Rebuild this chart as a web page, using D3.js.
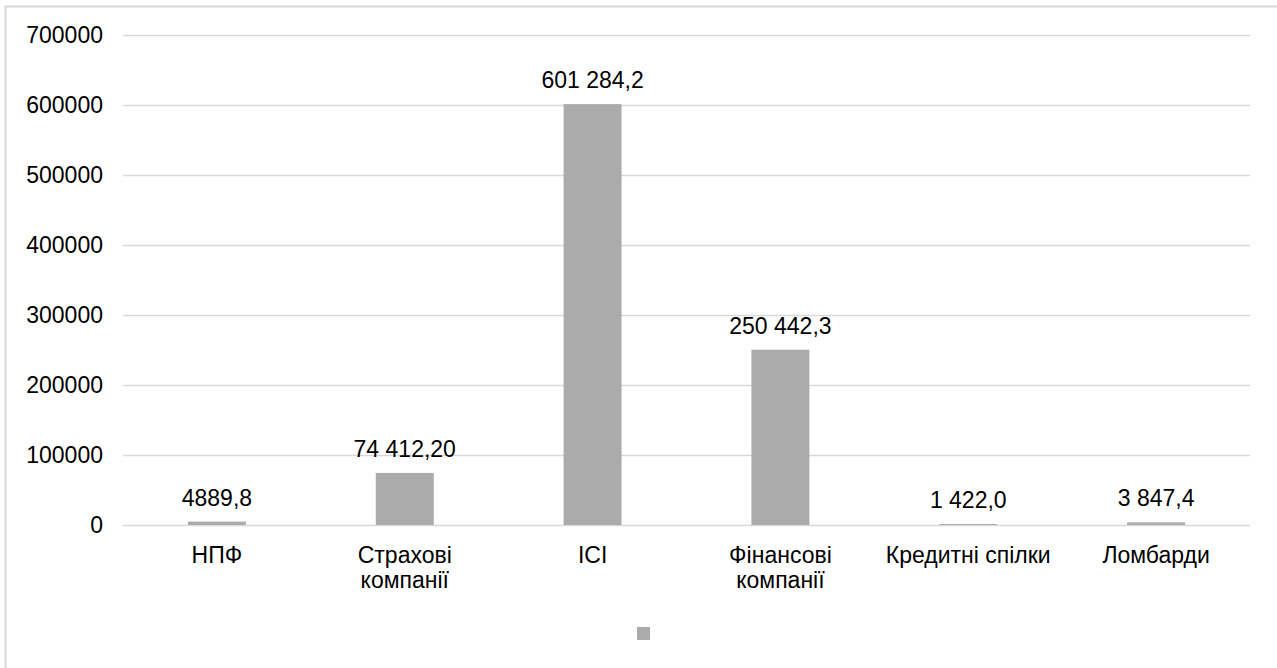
<!DOCTYPE html>
<html>
<head>
<meta charset="utf-8">
<script src="https://cdn.jsdelivr.net/npm/d3@7/dist/d3.min.js"></script>
<style>
  html, body { margin: 0; padding: 0; background: #fff; }
  svg { display: block; }
  text { font-family: "Liberation Sans", Arial, sans-serif; fill: #000; }
</style>
</head>
<body>
<svg id="chart" width="1277" height="668"></svg>
<script>
// Categories (two-line names split by "\n")
const categories = ["НПФ", "Страхові\nкомпанії", "ICI", "Фінансові\nкомпанії", "Кредитні спілки", "Ломбарди"];
// Values per category
const values = [4889.8, 74412.20, 601284.2, 250442.3, 1422.0, 3847.4];
// Data labels as printed over the bars
const valueLabels = ["4889,8", "74 412,20", "601 284,2", "250 442,3", "1 422,0", "3 847,4"];
// Y axis ticks
const yTicks = [0, 100000, 200000, 300000, 400000, 500000, 600000, 700000];

const svg = d3.select("#chart");
const fontSize = 23;
const barColor = "#ababab";
const gridColor = "#d9d9d9";

// Outer chart frame
svg.append("path")
  .attr("d", "M5.5,700 L5.5,6.5 L1290,6.5")
  .attr("fill", "none")
  .attr("stroke", gridColor)
  .attr("stroke-width", 2);

const plot = { left: 123, right: 1250, top: 35, bottom: 525 };

const x = d3.scaleBand()
  .domain(categories)
  .range([plot.left, plot.right])
  .paddingInner(0)
  .paddingOuter(0);

const y = d3.scaleLinear()
  .domain([0, 700000])
  .range([plot.bottom, plot.top]);

const barWidth = 58;

// Horizontal gridlines
svg.append("g")
  .selectAll("line")
  .data(yTicks)
  .join("line")
  .attr("x1", plot.left)
  .attr("x2", plot.right)
  .attr("y1", d => Math.round(y(d)) + 0.5)
  .attr("y2", d => Math.round(y(d)) + 0.5)
  .attr("stroke", gridColor)
  .attr("stroke-width", 1.5);

// Y axis labels
const yAxis = d3.axisLeft(y).tickValues(yTicks).tickSize(0).tickPadding(20).tickFormat(d3.format("d"));
const yg = svg.append("g")
  .attr("transform", `translate(${plot.left},0)`)
  .call(yAxis);
yg.select(".domain").remove();
yg.selectAll("text")
  .attr("font-size", fontSize)
  .attr("font-family", "Liberation Sans, Arial, sans-serif")
  .attr("fill", "#000");

// Bars
svg.append("g")
  .selectAll("rect")
  .data(values)
  .join("rect")
  .attr("x", (d, i) => x(categories[i]) + x.bandwidth() / 2 - barWidth / 2)
  .attr("width", barWidth)
  .attr("y", d => y(d))
  .attr("height", d => y(0) - y(d))
  .attr("fill", barColor);

// Value labels above bars
svg.append("g")
  .selectAll("text")
  .data(values)
  .join("text")
  .attr("x", (d, i) => x(categories[i]) + x.bandwidth() / 2)
  .attr("y", d => y(d) - 16)
  .attr("text-anchor", "middle")
  .attr("font-size", fontSize)
  .text((d, i) => valueLabels[i]);

// Category labels
const cat = svg.append("g")
  .selectAll("text")
  .data(categories)
  .join("text")
  .attr("text-anchor", "middle")
  .attr("font-size", fontSize)
  .attr("transform", d => `translate(${x(d) + x.bandwidth() / 2},563)`);
cat.selectAll("tspan")
  .data(d => d.split("\n"))
  .join("tspan")
  .attr("x", 0)
  .attr("dy", (d, i) => i === 0 ? 0 : 25)
  .text(d => d);

// Legend marker (series without a name)
svg.append("rect")
  .attr("x", 637)
  .attr("y", 627)
  .attr("width", 13)
  .attr("height", 13)
  .attr("fill", barColor);
</script>
</body>
</html>
